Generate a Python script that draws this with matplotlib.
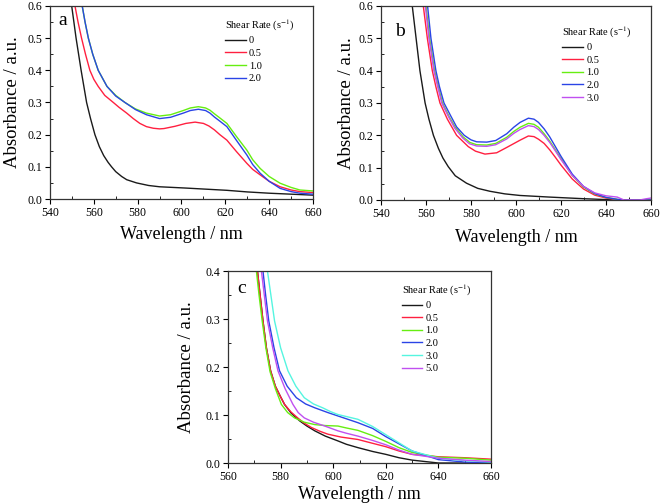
import matplotlib
matplotlib.use("Agg")
import matplotlib.pyplot as plt
from matplotlib.ticker import MultipleLocator, FormatStrFormatter

plt.rcParams['font.family'] = 'serif'
plt.rcParams['font.serif'] = ['Liberation Serif', 'DejaVu Serif']
plt.rcParams['mathtext.fontset'] = 'stix'

# ---- panel a : shear rates 0, 0.5, 1.0, 2.0 ----
a_labels = ["0", "0.5", "1.0", "2.0"]
a_wl_0 = [549.0, 549.9, 551.9, 554.2, 556.7, 558.5, 560.5, 562.5, 564.5, 566.5, 568.1, 570, 572.7, 575, 579.5, 585, 590, 602, 610, 620.7, 630, 640, 650, 660]
a_ab_0 = [0.65, 0.60, 0.50, 0.40, 0.30, 0.25, 0.20, 0.163, 0.135, 0.114, 0.10, 0.085, 0.07, 0.06, 0.05, 0.042, 0.038, 0.034, 0.031, 0.027, 0.022, 0.018, 0.015, 0.012]
a_wl_05 = [550.5, 551.4, 552.8, 554.4, 556.2, 558.2, 560, 562, 565, 568.9, 571.5, 575, 578, 581, 584, 587.1, 590, 592, 597, 602, 606.2, 610, 612.5, 615, 617.5, 620.7, 625, 629.8, 632.5, 635.9, 640, 645, 650, 654, 660]
a_ab_05 = [0.65, 0.60, 0.55, 0.50, 0.45, 0.40, 0.372, 0.35, 0.322, 0.30, 0.285, 0.267, 0.25, 0.235, 0.225, 0.22, 0.218, 0.219, 0.226, 0.235, 0.239, 0.235, 0.227, 0.215, 0.2, 0.183, 0.148, 0.111, 0.092, 0.075, 0.055, 0.038, 0.028, 0.023, 0.02]
a_wl_10 = [553.8, 554.7, 556.0, 557.5, 559.5, 562.0, 566.0, 570, 574.2, 579, 584, 590, 595, 600.8, 604, 607.7, 611, 613, 615, 617.5, 620.7, 625, 629.8, 632.5, 635.9, 640, 645, 650, 654, 660]
a_ab_10 = [0.65, 0.60, 0.55, 0.50, 0.45, 0.40, 0.35, 0.322, 0.30, 0.28, 0.267, 0.258, 0.262, 0.275, 0.283, 0.287, 0.283, 0.276, 0.265, 0.252, 0.235, 0.195, 0.152, 0.122, 0.095, 0.07, 0.049, 0.036, 0.028, 0.025]
a_wl_20 = [553.8, 554.7, 556.0, 557.5, 559.5, 562.0, 566.0, 570, 574.2, 579, 584, 590, 595, 600.8, 604, 607.7, 611, 613, 615, 617.5, 620.7, 625, 629.8, 632.5, 635.9, 640, 645, 650, 654, 660]
a_ab_20 = [0.65, 0.60, 0.55, 0.50, 0.45, 0.40, 0.35, 0.32, 0.30, 0.278, 0.262, 0.25, 0.254, 0.267, 0.275, 0.279, 0.275, 0.267, 0.255, 0.242, 0.225, 0.183, 0.137, 0.107, 0.08, 0.055, 0.033, 0.023, 0.018, 0.015]

# ---- panel b : shear rates 0, 0.5, 1.0, 2.0, 3.0 ----
b_labels = ["0", "0.5", "1.0", "2.0", "3.0"]
b_wl_0 = [553.0, 553.9, 555.6, 557.3, 559.6, 561.3, 563.3, 565.5, 567.5, 569.9, 573, 578, 583, 588.4, 595, 601.8, 615, 630, 645, 660]
b_ab_0 = [0.65, 0.60, 0.50, 0.40, 0.30, 0.25, 0.20, 0.16, 0.13, 0.103, 0.075, 0.052, 0.036, 0.027, 0.019, 0.014, 0.009, 0.004, 0.0, 0.0]
b_wl_05 = [558.0, 558.8, 560.6, 562.8, 564.4, 566.2, 569.5, 573.6, 578.8, 582, 586.2, 591.4, 596, 601.8, 605.5, 608, 610, 612.5, 615, 617.5, 620, 625, 630, 635, 640, 645, 648, 660]
b_ab_05 = [0.65, 0.60, 0.50, 0.40, 0.35, 0.30, 0.25, 0.20, 0.165, 0.151, 0.142, 0.146, 0.163, 0.185, 0.198, 0.196, 0.188, 0.175, 0.155, 0.132, 0.108, 0.065, 0.034, 0.015, 0.006, 0.001, 0.0, 0.0]
b_wl_10 = [559.3, 560.0, 561.6, 563.8, 565.5, 567.3, 570.5, 573.0, 576.5, 579.5, 582.5, 587, 591, 595.9, 599, 601.8, 605.5, 608, 610, 612.5, 615, 617.5, 620, 625, 630, 635, 640, 645, 648, 660]
b_ab_10 = [0.65, 0.60, 0.50, 0.40, 0.35, 0.30, 0.255, 0.225, 0.195, 0.178, 0.171, 0.170, 0.175, 0.194, 0.212, 0.225, 0.237, 0.234, 0.225, 0.205, 0.182, 0.155, 0.128, 0.076, 0.040, 0.019, 0.008, 0.002, 0.0, 0.0]
b_wl_20 = [560.0, 560.7, 562.2, 564.4, 566.0, 568.0, 571.0, 573.6, 577.0, 580.0, 582.5, 587, 591, 595.9, 599, 601.8, 605.5, 608, 610, 612.5, 615, 617.5, 620, 625, 630, 635, 640, 645, 648, 660]
b_ab_20 = [0.65, 0.60, 0.50, 0.40, 0.35, 0.30, 0.26, 0.226, 0.20, 0.186, 0.18, 0.179, 0.184, 0.205, 0.225, 0.240, 0.253, 0.250, 0.240, 0.22, 0.195, 0.165, 0.135, 0.080, 0.042, 0.020, 0.008, 0.002, 0.0, 0.0]
b_wl_30 = [559.0, 559.7, 561.3, 563.5, 565.2, 567.0, 570.2, 572.8, 576.3, 579.3, 582.5, 587, 591, 595.9, 599, 601.8, 605.5, 608, 610, 612.5, 615, 617.5, 620, 625, 630, 635, 640, 645, 648, 655, 658, 660]
b_ab_30 = [0.65, 0.60, 0.50, 0.40, 0.35, 0.30, 0.255, 0.222, 0.192, 0.174, 0.167, 0.166, 0.171, 0.189, 0.206, 0.218, 0.230, 0.227, 0.218, 0.2, 0.178, 0.152, 0.125, 0.076, 0.042, 0.022, 0.013, 0.009, 0.0, 0.0, 0.004, 0.006]

# ---- panel c : shear rates 0, 0.5, 1.0, 2.0, 3.0, 5.0 ----
c_labels = ["0", "0.5", "1.0", "2.0", "3.0", "5.0"]
c_wl_0 = [570.5, 571.2, 572.2, 573.3, 574.6, 576.2, 578.0, 579.8, 581.5, 584, 587.2, 590, 593, 597, 601.8, 605, 609.4, 615, 620, 625, 630, 640, 650, 660]
c_ab_0 = [0.42, 0.40, 0.35, 0.296, 0.24, 0.192, 0.16, 0.14, 0.122, 0.104, 0.088, 0.077, 0.067, 0.056, 0.046, 0.039, 0.032, 0.024, 0.018, 0.011, 0.006, 0.0, 0.0, 0.0]
c_wl_05 = [570.5, 571.2, 572.2, 573.3, 574.6, 576.2, 578.0, 579.8, 581.5, 584, 586.5, 589, 591.7, 595, 598, 603, 609.4, 615, 620, 625, 630, 640, 650, 660]
c_ab_05 = [0.42, 0.40, 0.35, 0.296, 0.24, 0.192, 0.16, 0.14, 0.122, 0.106, 0.094, 0.083, 0.074, 0.066, 0.060, 0.054, 0.049, 0.041, 0.034, 0.025, 0.018, 0.013, 0.011, 0.008]
c_wl_10 = [570.0, 570.8, 571.8, 573.0, 574.4, 576.0, 578.0, 580.3, 582.7, 585.3, 589, 593, 597, 601.8, 605, 609.4, 615, 620, 625, 630, 640, 650, 660]
c_ab_10 = [0.42, 0.40, 0.35, 0.296, 0.24, 0.19, 0.155, 0.122, 0.105, 0.094, 0.085, 0.080, 0.078, 0.077, 0.073, 0.068, 0.057, 0.045, 0.032, 0.022, 0.012, 0.010, 0.006]
c_wl_20 = [572.5, 573.3, 574.3, 575.5, 577.5, 579.6, 582.5, 586.0, 589.5, 593, 598, 601.8, 605.6, 609.4, 615, 620, 625, 630, 640, 650, 660]
c_ab_20 = [0.42, 0.40, 0.35, 0.296, 0.24, 0.192, 0.16, 0.136, 0.123, 0.115, 0.105, 0.098, 0.091, 0.084, 0.072, 0.055, 0.040, 0.025, 0.007, 0.002, 0.0]
c_wl_30 = [574.2, 575.0, 576.3, 577.7, 580.0, 582.8, 585.8, 589, 592.5, 596, 599, 601.8, 605.6, 609.4, 615, 620, 625, 630, 640, 650, 660]
c_ab_30 = [0.42, 0.40, 0.35, 0.296, 0.24, 0.192, 0.16, 0.136, 0.123, 0.115, 0.107, 0.101, 0.096, 0.091, 0.076, 0.059, 0.042, 0.025, 0.01, 0.005, 0.002]
c_wl_50 = [572.0, 572.7, 573.8, 575.0, 577.0, 579.0, 581.7, 584.7, 586.7, 589, 592.5, 596.8, 601.8, 605, 609.4, 615, 620, 625, 630, 640, 650, 660]
c_ab_50 = [0.42, 0.40, 0.35, 0.296, 0.24, 0.192, 0.155, 0.122, 0.105, 0.094, 0.085, 0.077, 0.067, 0.062, 0.056, 0.047, 0.038, 0.027, 0.018, 0.01, 0.006, 0.003]

colors = ['#1a1a1a', '#ff2040', '#66ee11', '#2a44e6', '#55f5e0', '#c050f0']

W, H = 661, 503
fig = plt.figure(figsize=(W / 100, H / 100), dpi=100)


def px_axes(left, top, right, bottom):
    return fig.add_axes([left / W, 1 - bottom / H, (right - left) / W, (bottom - top) / H])


def style(ax, xlim, ylim, letter, letter_pos, leg_pos, xlab_y, ylab_x):
    ax.set_xlim(*xlim)
    ax.set_ylim(*ylim)
    ax.xaxis.set_major_locator(MultipleLocator(20))
    ax.xaxis.set_minor_locator(MultipleLocator(10))
    ax.yaxis.set_major_locator(MultipleLocator(0.1))
    ax.yaxis.set_minor_locator(MultipleLocator(0.05))
    ax.yaxis.set_major_formatter(FormatStrFormatter('%.1f'))
    ax.tick_params(which='major', direction='out', length=3.5, width=0.8, labelsize=8.5, pad=2)
    ax.tick_params(which='minor', direction='in', length=2, width=0.6)
    for s in ax.spines.values():
        s.set_linewidth(0.9)
        s.set_color('#333333')
    ax.set_xlabel('Wavelength / nm', fontsize=13)
    ax.set_ylabel('Absorbance / a.u.', fontsize=13.5)
    ax.xaxis.set_label_coords(0.5, xlab_y)
    ax.yaxis.set_label_coords(ylab_x, 0.5)
    ax.text(letter_pos[0], letter_pos[1], letter, transform=ax.transAxes, fontsize=14)
    leg = ax.legend(loc='upper left', bbox_to_anchor=leg_pos, frameon=False,
                    title='Shear Rate (s$^{-1}$)', title_fontsize=7.5, fontsize=7.5,
                    handlelength=2.0, handletextpad=0.3, labelspacing=0.32,
                    borderpad=0, borderaxespad=0)
    leg._legend_box.align = 'left'


# panel a
ax_a = px_axes(50, 6, 313, 199)
for wl, ab, lab, col in zip([a_wl_0, a_wl_05, a_wl_10, a_wl_20],
                            [a_ab_0, a_ab_05, a_ab_10, a_ab_20], a_labels, colors):
    ax_a.plot(wl, ab, color=col, lw=1.0, label=lab)
style(ax_a, (540, 660), (0, 0.6), 'a', (0.03, 0.9), (0.665, 0.94), -0.14, -0.112)

# panel b
ax_b = px_axes(381, 6, 651, 200)
for wl, ab, lab, col in zip([b_wl_0, b_wl_05, b_wl_10, b_wl_20, b_wl_30],
                            [b_ab_0, b_ab_05, b_ab_10, b_ab_20, b_ab_30], b_labels,
                            colors[:4] + [colors[5]]):
    ax_b.plot(wl, ab, color=col, lw=1.0, label=lab)
style(ax_b, (540, 660), (0, 0.6), 'b', (0.052, 0.845), (0.672, 0.905), -0.15, -0.095)

# panel c
ax_c = px_axes(228, 271, 491, 463)
for wl, ab, lab, col in zip([c_wl_0, c_wl_05, c_wl_10, c_wl_20, c_wl_30, c_wl_50],
                            [c_ab_0, c_ab_05, c_ab_10, c_ab_20, c_ab_30, c_ab_50], c_labels, colors):
    ax_c.plot(wl, ab, color=col, lw=1.0, label=lab)
style(ax_c, (560, 660), (0, 0.4), 'c', (0.034, 0.885), (0.66, 0.94), -0.12, -0.125)

fig.savefig('out.png', dpi=100)
